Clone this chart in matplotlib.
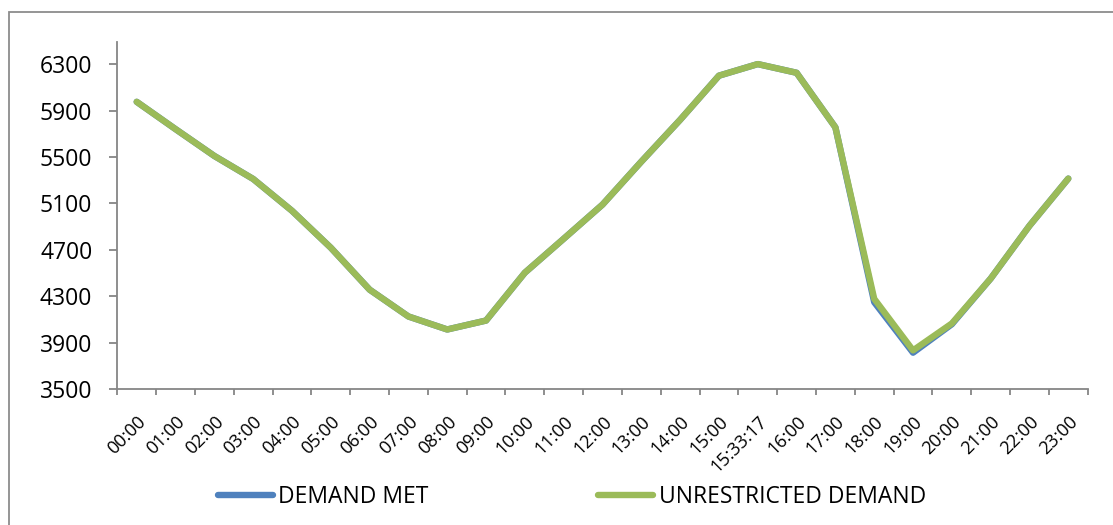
import numpy as np
import matplotlib
matplotlib.use("Agg")
import matplotlib.pyplot as plt
from matplotlib.patches import Rectangle

plt.rcParams['font.family'] = ['Open Sans', 'DejaVu Sans']

# categories and series (MW)
times = ['00:00', '01:00', '02:00', '03:00', '04:00', '05:00', '06:00', '07:00',
         '08:00', '09:00', '10:00', '11:00', '12:00', '13:00', '14:00', '15:00',
         '15:33:17', '16:00', '17:00', '18:00', '19:00', '20:00', '21:00',
         '22:00', '23:00']
unrestricted = [5975, 5740, 5509, 5311, 5037, 4719, 4358, 4127, 4015, 4092,
                4504, 4796, 5090, 5460, 5820, 6200, 6300, 6225, 5755, 4279,
                3835, 4067, 4453, 4908, 5314]
demand_met = [5975, 5740, 5509, 5311, 5037, 4719, 4358, 4127, 4015, 4092,
              4504, 4796, 5090, 5460, 5820, 6200, 6300, 6225, 5755, 4250,
              3815, 4060, 4453, 4908, 5314]
yticks = [3500, 3900, 4300, 4700, 5100, 5500, 5900, 6300]

blue = '#4F81BD'
green = '#9BBB59'
axcol = '#868686'

W, H = 1113, 525
fig = plt.figure(figsize=(W / 100, H / 100), dpi=100)
ax = fig.add_axes([117.3 / W, 1 - 389.3 / H, (1087.7 - 117.3) / W, (389.3 - 42) / H])

x = np.arange(len(times)) + 0.5
ax.plot(x, demand_met, color=blue, lw=4.6, solid_capstyle='round', solid_joinstyle='round',
        label='DEMAND MET')
ax.plot(x, unrestricted, color=green, lw=4.6, solid_capstyle='round', solid_joinstyle='round',
        label='UNRESTRICTED DEMAND')

ax.set_xlim(0, len(times))
ax.set_ylim(3500, 6490)

for s in ['top', 'right']:
    ax.spines[s].set_visible(False)
for s in ['left', 'bottom']:
    ax.spines[s].set_color(axcol)
    ax.spines[s].set_linewidth(1.3)

ax.set_yticks(yticks)
ax.set_yticklabels([str(v) for v in yticks], fontsize=16.5)
ax.tick_params(axis='y', direction='out', length=6, width=1.3, color=axcol, pad=12)

ax.set_xticks(np.arange(len(times) + 1))
ax.set_xticklabels([])
ax.tick_params(axis='x', which='major', direction='out', length=4.5, width=1.3, color=axcol)
ax.set_xticks(x, minor=True)
ax.set_xticklabels(times, minor=True, rotation=45, ha='right', va='top',
                   rotation_mode='anchor', fontsize=13)
ax.tick_params(axis='x', which='minor', length=0, pad=17)

fig.legend(loc='center', bbox_to_anchor=(572 / W, 1 - 497 / H), ncol=2, frameon=False,
           fontsize=16.5, handlelength=2.4, handletextpad=0.25, columnspacing=7.4)

# outer chart frame
fig.patches.append(Rectangle((9 / W, -0.1), 1.2, 1.1 - 12 / H, transform=fig.transFigure,
                             fill=False, edgecolor='#8c8c8c', lw=1.3, clip_on=False))

fig.savefig('out.png', dpi=100)
